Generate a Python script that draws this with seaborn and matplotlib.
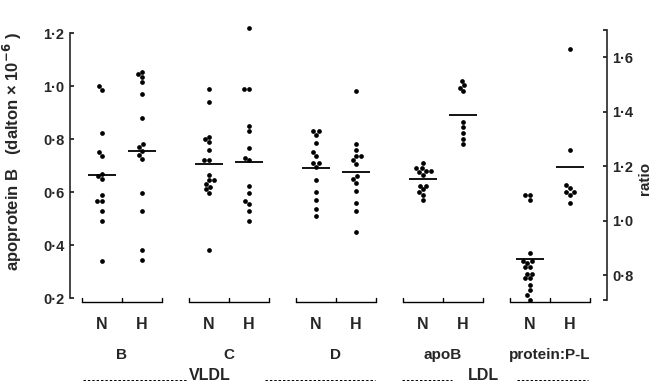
import matplotlib
matplotlib.use("Agg")
import matplotlib.pyplot as plt
import matplotlib.transforms as mtransforms
from matplotlib.ticker import FuncFormatter
import numpy as np
import pandas as pd
import seaborn as sns

# values
groups = ['B', 'C', 'D', 'apoB', 'protein:P-L']
status = ['N', 'H']

vldl_b_n = [1.00, 0.985, 0.825, 0.75, 0.735, 0.67, 0.66, 0.65, 0.59, 0.565, 0.565, 0.53, 0.49, 0.34]
vldl_b_h = [1.055, 1.045, 1.035, 1.015, 0.97, 0.88, 0.78, 0.77, 0.755, 0.74, 0.725, 0.595, 0.53, 0.38, 0.345]
vldl_c_n = [0.99, 0.94, 0.81, 0.80, 0.79, 0.76, 0.72, 0.72, 0.665, 0.645, 0.645, 0.63, 0.62, 0.61, 0.595, 0.38]
vldl_c_h = [1.22, 0.99, 0.99, 0.85, 0.83, 0.765, 0.73, 0.72, 0.625, 0.595, 0.565, 0.555, 0.53, 0.49]
vldl_d_n = [0.83, 0.83, 0.815, 0.785, 0.75, 0.735, 0.71, 0.71, 0.695, 0.645, 0.60, 0.57, 0.535, 0.51]
vldl_d_h = [0.98, 0.78, 0.76, 0.735, 0.735, 0.72, 0.705, 0.66, 0.65, 0.635, 0.605, 0.56, 0.53, 0.45]
ldl_apob_n = [0.71, 0.69, 0.69, 0.68, 0.68, 0.675, 0.665, 0.625, 0.625, 0.61, 0.60, 0.59, 0.57]
ldl_apob_h = [1.02, 1.005, 0.995, 0.98, 0.865, 0.845, 0.825, 0.80, 0.78]
ldl_ratio_n = [1.095, 1.095, 1.075, 0.88, 0.85, 0.85, 0.845, 0.83, 0.83, 0.805, 0.805,
               0.79, 0.79, 0.765, 0.745, 0.725, 0.71]
ldl_ratio_h = [1.63, 1.26, 1.13, 1.12, 1.105, 1.105, 1.095, 1.065]

mean_n = [0.665, 0.705, 0.69, 0.65, 0.86]
mean_h = [0.755, 0.715, 0.675, 0.89, 1.195]

left_ticks = [0.2, 0.4, 0.6, 0.8, 1.0, 1.2]
right_ticks = [0.8, 1.0, 1.2, 1.4, 1.6]

series = [vldl_b_n, vldl_b_h, vldl_c_n, vldl_c_h, vldl_d_n, vldl_d_h,
          ldl_apob_n, ldl_apob_h, ldl_ratio_n, ldl_ratio_h]

# build long table, x position: group spacing 2.675, N/H one unit apart
gap = 2.675
rows = []
for i, vals in enumerate(series):
    g, s = divmod(i, 2)
    for v in vals:
        rows.append({'group': groups[g], 'status': status[s],
                     'xpos': g * gap + s, 'value': v})
df = pd.DataFrame(rows)

sns.set_style('white')
plt.rcParams['font.family'] = ['Liberation Sans', 'DejaVu Sans']
plt.rcParams['font.weight'] = 'bold'

fig = plt.figure(figsize=(6.54, 3.84), dpi=100)
ax = fig.add_axes([0.107, 0.203, 0.821, 0.734])
ax2 = ax.twinx()

left = df[df.group != 'protein:P-L']
right = df[df.group == 'protein:P-L']
sns.swarmplot(data=left, x='xpos', y='value', native_scale=True, orient='x',
              color='black', size=3.4, ax=ax)
sns.swarmplot(data=right, x='xpos', y='value', native_scale=True, orient='x',
              color='black', size=3.4, ax=ax2)

# mean bars
pos_n = np.arange(len(groups)) * gap
pos_h = pos_n + 1
ax.hlines(mean_n[:4], pos_n[:4] - 0.36, pos_n[:4] + 0.36, color='black', lw=1.3)
ax.hlines(mean_h[:4], pos_h[:4] - 0.36, pos_h[:4] + 0.36, color='black', lw=1.3)
ax2.hlines(mean_n[4:], pos_n[4:] - 0.36, pos_n[4:] + 0.36, color='black', lw=1.3)
ax2.hlines(mean_h[4:], pos_h[4:] - 0.36, pos_h[4:] + 0.36, color='black', lw=1.3)

ax.set_xlim(-0.8, 12.625)
ax.set_ylim(0.170, 1.234)
ax2.set_ylim(0.686, 1.721)

fmt = FuncFormatter(lambda v, p: f"{v:.1f}".replace('.', '\u00b7'))
ax.set_yticks(left_ticks)
ax.yaxis.set_major_formatter(fmt)
ax2.set_yticks(right_ticks)
ax2.set_yticks([0.71, 1.70], minor=True)
ax2.yaxis.set_major_formatter(fmt)

for a in (ax, ax2):
    for sp in a.spines.values():
        sp.set_visible(False)
    a.tick_params(axis='y', which='both', direction='in', length=3, width=1.1,
                  labelsize=10.5, pad=4, color='black')
    a.grid(False)
ax.spines['left'].set_visible(True)
ax.spines['left'].set_bounds(0.2, 1.2)
ax.spines['left'].set_linewidth(1.2)
ax2.spines['right'].set_visible(True)
ax2.spines['right'].set_bounds(0.71, 1.70)
ax2.spines['right'].set_linewidth(1.2)

# N / H labels on the x axis
xt = np.ravel(np.column_stack([pos_n, pos_h]))
ax.set_xticks(xt)
ax.set_xticklabels(status * len(groups), fontsize=11.5, fontweight='bold')
ax.tick_params(axis='x', length=0, pad=8)
ax.set_xlabel('')

ax.set_ylabel('apoprotein B   (dalton \u00d7 10$^{\\mathbf{-6}}$ )', fontsize=12, fontweight='bold')
ax.yaxis.set_label_coords(-0.086, 0.55)
ax2.set_ylabel('')
ax2.text(1.0706, 0.454, 'ratio', transform=ax2.transAxes, rotation=90,
         ha='center', va='center', fontsize=11, fontweight='bold')

blend = mtransforms.blended_transform_factory(ax.transData, ax.transAxes)

# brackets under each N/H pair
yb, th = 0.014, 0.015
for gi, xn in enumerate(pos_n):
    x0, xm, x1 = xn - 0.5, xn + 0.5, xn + 1.5
    ax.plot([x0, x1], [yb, yb], color='black', lw=1, transform=blend, clip_on=False)
    for xx in (x0, xm, x1):
        ax.plot([xx, xx], [yb, yb + th], color='black', lw=1, transform=blend, clip_on=False)
    ax.text(xm, -0.174, groups[gi], transform=blend,
            ha='center', va='center', fontsize=11, fontweight='bold')

# VLDL / LDL lines
yd = -0.262
for x0, x1 in [(-0.475, 2.125), (4.075, 6.825), (7.5, 8.75), (10.375, 12.15)]:
    ax.plot([x0, x1], [yd, yd], color='black', lw=0.7, ls=(0, (2.5, 2)),
            transform=blend, clip_on=False)
ax.text(2.7, -0.248, 'VLDL', transform=blend, ha='center', va='center',
        fontsize=11.5, fontweight='bold')
ax.text(9.55, -0.248, 'LDL', transform=blend, ha='center', va='center',
        fontsize=11.5, fontweight='bold')

fig.savefig('out.png', dpi=100)
